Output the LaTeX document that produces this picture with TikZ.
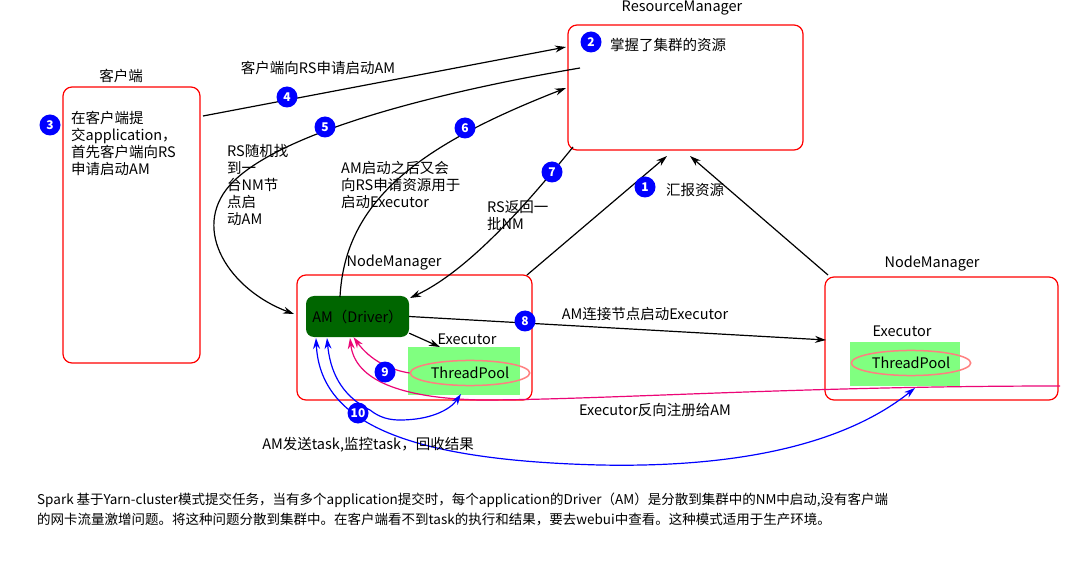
\documentclass[tikz,border=0pt]{standalone}
\usepackage{fontspec}
\setmainfont{Noto Sans CJK SC}
\usetikzlibrary{arrows.meta,shapes.geometric}
\begin{document}
\begin{tikzpicture}[x=1pt,y=-1pt,font=\fontsize{14.5}{17}\selectfont,
 box/.style={draw=red,line width=1.2pt,rounded corners=9pt},
 badge/.style={circle,fill=blue,text=white,inner sep=0pt,minimum size=21pt,font=\fontsize{12}{12}\bfseries\selectfont},
 lbl/.style={inner sep=1pt},
 blk/.style={black,line width=1.2pt,-{Stealth[length=11pt,width=7pt]}},
 pnk/.style={magenta!80!red,line width=1.2pt,-{Stealth[length=11pt,width=7pt]}},
 blu/.style={blue,line width=1.2pt,-{Stealth[length=11pt,width=7pt]}},
 tp/.style={draw=red!50,line width=1.5pt,ellipse,inner sep=3pt}]
\useasboundingbox (0,0) rectangle (1087,585);
\fill[white] (0,0) rectangle (1087,585);
% client
\node[box,minimum width=137pt,minimum height=276pt] (cl) at (131.5,225) {};
\node[lbl] (cll) at (121,76) {客户端};
\node[lbl,align=left,anchor=north west] (clt) at (70,110) {在客户端提\\交application，\\首先客户端向RS\\申请启动AM};
\node[badge] (b3) at (50,125) {3};
% RM
\node[box,minimum width=235pt,minimum height=125pt] (rm) at (685.5,87.5) {};
\node[lbl] (rml) at (682,8) {ResourceManager};
\node[badge] (b2) at (591,42) {2};
\node[lbl] (rmt) at (668,45) {掌握了集群的资源};
% NM1
\node[box,minimum width=235pt,minimum height=125pt] (nm1) at (414.5,337.5) {};
\node[lbl] (nm1l) at (394,263) {NodeManager};
\node[fill=green!40!black,rounded corners=8pt,minimum width=103pt,minimum height=41pt] (am) at (357.5,316.5) {AM（Driver）};
\node[fill=green!50,minimum width=112pt,minimum height=48pt] (ex1) at (464,371) {};
\node[tp] (tp1) at (470,373) {ThreadPool};
\node[lbl] (ex1l) at (467,339) {Executor};
% NM2
\node[box,minimum width=233pt,minimum height=123pt] (nm2) at (941.5,338.5) {};
\node[lbl] (nm2l) at (932,264) {NodeManager};
\node[fill=green!50,minimum width=110pt,minimum height=44pt] (ex2) at (905,364) {};
\node[tp] (tp2) at (911,363) {ThreadPool};
\node[lbl] (ex2l) at (902,331) {Executor};
% coordinates
\coordinate (c4a) at (203,116);
\coordinate (c4b) at (566,47);
\coordinate (c5a) at (580,68);
\coordinate (c5b) at (294,314);
\coordinate (c6a) at (340,297);
\coordinate (c6b) at (566,88);
\coordinate (c7a) at (573,147);
\coordinate (c7b) at (410,298);
\coordinate (c1a) at (527,275);
\coordinate (c1b) at (667,156);
\coordinate (c1c) at (828,275);
\coordinate (c1d) at (690,156);
\coordinate (c8b) at (826,340);
\coordinate (cex) at (440,347);
% arrows
\draw[blk] (c4a) -- (c4b);
\draw[blk] (c5a) .. controls (450,90) and (280,130) .. (230,185) .. controls (190,230) and (230,290) .. (c5b);
\draw[blk] (c6a) .. controls (345,200) and (420,145) .. (c6b);
\draw[blk] (c7a) .. controls (530,200) and (470,270) .. (c7b);
\draw[blk] (c1a) -- (c1b);
\draw[blk] (c1c) -- (c1d);
\draw[blk] (am.east) -- (c8b);
\draw[blk] ([yshift=4pt]am.south east) -- (cex);
\draw[pnk] (tp1.west) .. controls (390,370) and (370,360) .. ([xshift=-4pt]am.south);
\draw[pnk] (1060,386) .. controls (800,386) and (600,400) .. (480,400) .. controls (400,398) and (355,380) .. (350,338);
\draw[blu] (400,420) .. controls (430,420) and (450,410) .. (461,394);
\draw[blu] (370,410) .. controls (340,395) and (330,370) .. (327,338);
\draw[blu] (600,465) .. controls (400,460) and (320,420) .. (316,338);
\draw[blu] (600,465) .. controls (750,468) and (850,440) .. (915,388);
\draw[blu,-] (370,410) .. controls (380,418) and (390,420) .. (400,420);
% badges and labels
\node[badge] (b4) at (287,97) {4};
\node[lbl] (t4) at (318,68) {客户端向RS申请启动AM};
\node[badge] (b5) at (325,127) {5};
\node[lbl,align=left,anchor=north west] (t5) at (226,143) {RS随机找\\到一\\台NM节\\点启\\动AM};
\node[badge] (b6) at (465,128) {6};
\node[lbl,align=left,anchor=north west] (t6) at (340,160) {AM启动之后又会\\向RS申请资源用于\\启动Executor};
\node[badge] (b7) at (552,172) {7};
\node[lbl,align=left,anchor=north west] (t7) at (486,199) {RS返回一\\批NM};
\node[badge] (b1) at (645,187) {1};
\node[lbl] (t1) at (695,190) {汇报资源};
\node[badge] (b8) at (525,321) {8};
\node[lbl] (t8) at (645,314) {AM连接节点启动Executor};
\node[badge] (b9) at (385,372) {9};
\node[badge] (b10) at (358,413) {10};
\node[lbl] (t9) at (655,410) {Executor反向注册给AM};
\node[lbl] (t10) at (368,445) {AM发送task,监控task，回收结果};
\node[lbl,align=left,anchor=north west,font=\fontsize{13.5}{20}\selectfont] (bt) at (36,492) {Spark 基于Yarn-cluster模式提交任务，当有多个application提交时，每个application的Driver（AM）是分散到集群中的NM中启动,没有客户端\\的网卡流量激增问题。将这种问题分散到集群中。在客户端看不到task的执行和结果，要去webui中查看。这种模式适用于生产环境。};
\end{tikzpicture}
\end{document}
